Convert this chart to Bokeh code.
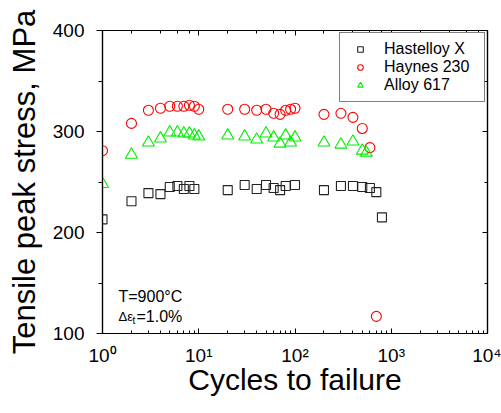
from bokeh.plotting import figure
from bokeh.models import (LogAxis, LinearAxis, Legend, LegendItem, Label,
                          SingleIntervalTicker, LogTicker, Range1d, CustomJSTickFormatter)
from bokeh.embed import file_html
from bokeh.resources import INLINE

# ---- data ----
n_hastelloy = [1, 2, 3, 4, 5, 6, 7, 8, 9, 20, 30, 40, 50, 60, 70, 80, 100,
               200, 300, 400, 500, 600, 700, 800]
s_hastelloy = [213, 231, 239, 238, 245, 246, 243, 246, 243, 242, 247, 243, 247,
               244, 242, 246, 247, 242, 246, 246, 245, 244, 240, 215]

n_haynes = [1, 2, 3, 4, 5, 6, 7, 8, 9, 10, 20, 30, 40, 50, 60, 70, 80, 90, 100,
            200, 300, 400, 500, 600, 700]
s_haynes = [281, 308, 321, 323, 325, 325, 325, 326, 325, 322, 322, 322, 321, 322,
            318, 317, 321, 322, 323, 317, 318, 314, 303, 284, 117]

n_617 = [1, 2, 3, 4, 5, 6, 7, 8, 9, 10, 20, 30, 40, 50, 60, 70, 80, 90, 100,
         200, 300, 400, 500, 550]
s_617 = [248, 277, 289, 293, 299, 299, 298, 298, 296, 295, 296, 295, 292, 298,
         294, 288, 296, 289, 294, 289, 287, 290, 281, 279]

series_names = ["Hastelloy X", "Haynes 230", "Alloy 617"]
x_tick_labels = {1: "10\u2070", 10: "10\u00b9", 100: "10\u00b2", 1000: "10\u00b3", 10000: "10\u2074"}

FONT = "Liberation Sans"

p = figure(x_axis_type="log", x_range=Range1d(1, 1e4), y_range=Range1d(100, 400),
           frame_width=385, frame_height=303,
           min_border_left=102, min_border_right=14, min_border_top=30, min_border_bottom=75,
           output_backend="svg", toolbar_location=None)
p.xgrid.visible = False
p.ygrid.visible = False
p.outline_line_color = "black"
p.outline_line_width = 1.2
p.background_fill_color = "white"
p.border_fill_color = "white"

r1 = p.scatter(n_hastelloy, s_hastelloy, marker="square", size=9, fill_color=None,
               line_color="#222222", line_width=1.1)
r2 = p.scatter(n_haynes, s_haynes, marker="circle", size=10, fill_color=None,
               line_color="red", line_width=1.1)
r3 = p.scatter(n_617, s_617, marker="triangle", size=12, fill_color=None,
               line_color="#00ee00", line_width=1.1)

empty = CustomJSTickFormatter(code="return ''")

xa = p.xaxis[0]
xa.axis_label = "Cycles to failure"
xa.axis_label_text_font = FONT
xa.axis_label_text_font_size = "30px"
xa.axis_label_text_font_style = "normal"
xa.axis_label_text_color = "black"
xa.axis_label_standoff = -6
xa.major_label_text_font = FONT
xa.major_label_text_font_size = "19px"
xa.major_label_text_color = "black"
xa.major_label_overrides = x_tick_labels
xa.major_label_standoff = 11
xa.major_tick_in = 5
xa.major_tick_out = 0
xa.minor_tick_in = 3
xa.minor_tick_out = 0
xa.axis_line_width = 1.2
xa.major_tick_line_color = "black"
xa.minor_tick_line_color = "black"

ya = p.yaxis[0]
ya.ticker = SingleIntervalTicker(interval=100, num_minor_ticks=2)
ya.axis_label = "Tensile peak stress, MPa"
ya.axis_label_text_font = FONT
ya.axis_label_text_font_size = "31px"
ya.axis_label_text_font_style = "normal"
ya.axis_label_text_color = "black"
ya.axis_label_standoff = 8
ya.major_label_text_font = FONT
ya.major_label_text_font_size = "19px"
ya.major_label_text_color = "black"
ya.major_label_standoff = 12
ya.major_tick_in = 0
ya.major_tick_out = 6
ya.minor_tick_in = 0
ya.minor_tick_out = 4
ya.axis_line_width = 1.2

top = LogAxis(ticker=LogTicker(), formatter=empty, major_tick_in=5, major_tick_out=0,
              minor_tick_in=3, minor_tick_out=0, major_label_standoff=0, axis_line_width=1.2)
p.add_layout(top, "above")
right = LinearAxis(ticker=SingleIntervalTicker(interval=100, num_minor_ticks=2), formatter=empty,
                   major_tick_in=5, major_tick_out=0, minor_tick_in=3, minor_tick_out=0,
                   major_label_standoff=0, axis_line_width=1.2)
p.add_layout(right, "right")

legend = Legend(items=[LegendItem(label=series_names[0], renderers=[r1]),
                       LegendItem(label=series_names[1], renderers=[r2]),
                       LegendItem(label=series_names[2], renderers=[r3])],
                location="top_right", margin=2, padding=7, spacing=0,
                glyph_width=26, glyph_height=14, label_height=15, label_width=93,
                label_standoff=11, label_text_font=FONT, label_text_font_size="16px",
                label_text_color="black",
                border_line_color="black", border_line_width=1,
                background_fill_color="white", background_fill_alpha=1)
p.add_layout(legend)

p.add_layout(Label(x=1, y=137, x_offset=16, text="T=900\u00b0C", text_font=FONT,
                   text_font_size="16px", text_baseline="alphabetic", text_color="black"))
p.add_layout(Label(x=1, y=117, x_offset=16, text="\u0394\u03b5", text_font=FONT,
                   text_font_size="13px", text_baseline="alphabetic", text_color="black"))
p.add_layout(Label(x=1, y=113, x_offset=30, text="t", text_font=FONT,
                   text_font_size="10px", text_baseline="alphabetic", text_color="black"))
p.add_layout(Label(x=1, y=117, x_offset=34, text="=1.0%", text_font=FONT,
                   text_font_size="16px", text_baseline="alphabetic", text_color="black"))

open("out.html", "w").write(file_html(p, INLINE))
